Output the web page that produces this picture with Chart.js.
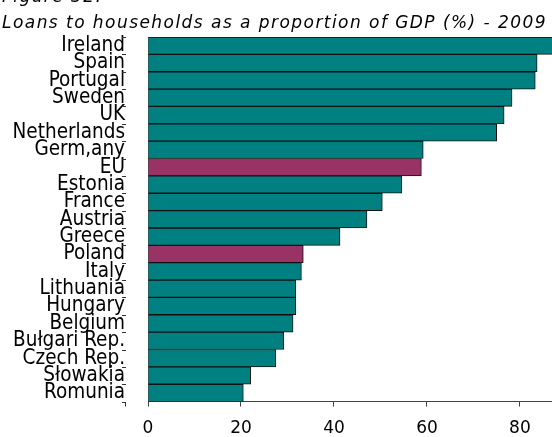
<!DOCTYPE html>
<html>
<head>
<meta charset="utf-8">
<script src="https://cdn.jsdelivr.net/npm/chart.js@4/dist/chart.umd.min.js"></script>
<style>
html,body{margin:0;padding:0;background:#fff;}
#wrap{position:relative;width:552px;height:437px;overflow:hidden;}
</style>
</head>
<body>
<div id="wrap"><canvas id="c" width="552" height="437"></canvas></div>
<script>
const categories = ["Ireland","Spain","Portugal","Sweden","UK","Netherlands","Germ,any","EU","Estonia","France","Austria","Greece","Poland","Italy","Lithuania","Hungary","Belgium","Bułgari Rep.","Czech Rep.","Słowakia","Romunia"];
const values = [90.0,83.7,83.3,78.3,76.6,75.0,59.2,58.8,54.6,50.4,47.1,41.3,33.4,33.0,31.8,31.8,31.2,29.2,27.5,22.1,20.5];
const highlighted = ["EU","Poland"];
const xTicks = [0,20,40,60,80];
const titleLines = ["Figure 32.","Loans to households as a proportion of GDP (%) - 2009"];

const barColors = categories.map(c => highlighted.includes(c) ? "#993366" : "#008080");

const titlePlugin = {
  id: "titleText",
  afterDraw(chart){
    const ctx = chart.ctx;
    ctx.save();
    ctx.fillStyle = "#000";
    ctx.font = "italic 17px 'DejaVu Sans'";
    try { ctx.letterSpacing = "1.45px"; } catch(e) {}
    ctx.textBaseline = "alphabetic";
    ctx.textAlign = "left";
    ctx.fillText(titleLines[0], 2, 2);
    ctx.fillText(titleLines[1], 2, 28);
    ctx.restore();
  }
};

const tickMarks = {
  id: "tickMarks",
  afterDraw(chart){
    const y = chart.scales.y, ctx = chart.ctx;
    const x0 = chart.chartArea.left - 26;
    ctx.save();
    ctx.strokeStyle = "#333";
    ctx.lineWidth = 1;
    const half = (y.getPixelForValue(1) - y.getPixelForValue(0)) / 2;
    ctx.beginPath();
    for (let i = 0; i <= categories.length; i++) {
      const py = Math.round(y.getPixelForValue(i) - half) + 0.5;
      ctx.moveTo(x0, py); ctx.lineTo(x0 + 4, py);
    }
    const last = Math.round(y.getPixelForValue(categories.length - 1) + half) + 0.5;
    ctx.moveTo(x0 + 3.5, last); ctx.lineTo(x0 + 3.5, last + 4);
    ctx.stroke();
    ctx.restore();
  }
};

new Chart(document.getElementById("c"), {
  type: "bar",
  data: {
    labels: categories,
    datasets: [{
      data: values,
      backgroundColor: barColors,
      borderColor: "#111",
      borderWidth: 1,
      barPercentage: 1,
      categoryPercentage: 1
    }]
  },
  options: {
    indexAxis: "y",
    responsive: false,
    animation: false,
    devicePixelRatio: 1,
    layout: { padding: { top: 37, right: 0, bottom: -14, left: 0 } },
    plugins: { legend: { display: false }, tooltip: { enabled: false }, title: { display: false } },
    scales: {
      x: {
        min: 0, max: 86.9,
        afterBuildTicks(scale){ scale.ticks = xTicks.map(v => ({value: v})); },
        grid: { drawOnChartArea: false, drawTicks: true, tickLength: 5, color: "#444" },
        border: { display: true, color: "#444", width: 1 },
        ticks: { color: "#000", padding: 12, font: { family: "'DejaVu Sans'", size: 17 } }
      },
      y: {
        afterFit(scale){ scale.width = 148; },
        grid: { display: true, drawOnChartArea: false, drawTicks: false },
        border: { display: true, color: "#444", width: 1 },
        ticks: { color: "#000", padding: 23, autoSkip: false, font: { family: "'DejaVu Sans Condensed', 'DejaVu Sans'", size: 20.5, lineHeight: 0.9 } }
      }
    }
  },
  plugins: [titlePlugin, tickMarks]
});
</script>
</body>
</html>
